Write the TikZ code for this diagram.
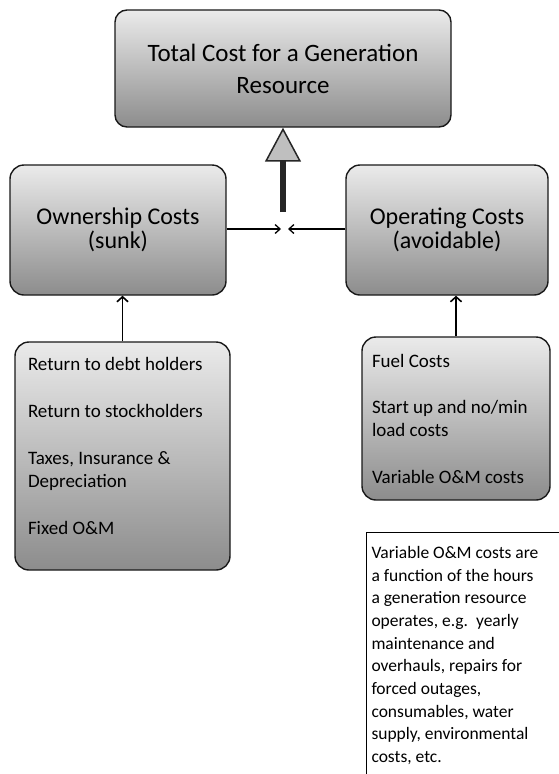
\documentclass[tikz,border=0pt]{standalone}
\usepackage{fontspec}
\setmainfont{Carlito}
\usetikzlibrary{arrows.meta}

\tikzset{
  costbox/.style={draw=black!90, line width=1.4pt, rounded corners=14pt,
    top color=black!8, bottom color=black!45, align=center},
  notebox/.style={draw=black, line width=1pt, align=flush left, inner xsep=5pt},
  feed/.style={draw=black, line width=1.6pt, -{Straight Barb[length=5pt,width=11pt]}},
  merge/.style={draw=black, line width=1.3pt, -{Straight Barb[length=5pt,width=9pt]}},
  rise/.style={draw=black!85, line width=6pt,
    -{Triangle[length=34pt,width=36pt,fill=black!25,line width=1.5pt]}}
}

\begin{document}
\begin{tikzpicture}[x=1pt, y=-1pt]
		\useasboundingbox (0,0) rectangle (558,774);
		
		%%%%% TOP %%%%%
		\node[costbox, rounded corners=12pt, minimum width=336pt, minimum height=117pt,
		  font=\fontsize{25}{32}\selectfont] (total) at (283,68.5) {Total Cost for a Generation\\Resource};
		
		%%%%% MIDDLE %%%%%
		\node[costbox, minimum width=216pt, minimum height=130pt,
		  font=\fontsize{24}{24}\selectfont] (own) at (118,230) {Ownership Costs\\(sunk)};
		\node[costbox, minimum width=202pt, minimum height=130pt,
		  font=\fontsize{24}{24}\selectfont] (oper) at (447,230) {Operating Costs\\(avoidable)};
		
		%%%%% LISTS %%%%%
		\node[costbox, inner sep=0pt, minimum width=215pt, minimum height=228pt,
		  font=\fontsize{19}{23.5}\selectfont] (ownlist) at (122.5,456)
		  {\parbox[c][198pt][t]{189pt}{\raggedright Return to debt holders\\[23.5pt]
		  Return to stockholders\\[23.5pt]Taxes, Insurance \&\\Depreciation\\[23.5pt]Fixed O\&M}};
		\node[costbox, inner sep=0pt, minimum width=188pt, minimum height=163pt,
		  font=\fontsize{19}{23}\selectfont] (operlist) at (456,418.5)
		  {\parbox[c][129pt][t]{168pt}{\raggedright Fuel Costs\\[23.5pt]
		  Start up and no/min\\load costs\\[23.5pt]Variable O\&M costs}};
		
		% note runs off the page at right and bottom
		\node[notebox, anchor=north west, text width=190pt, minimum height=246pt,
		  font=\fontsize{17.5}{22.7}\selectfont] (note) at (366,532)
		  {Variable O\&M costs are\\a function of the hours\\a generation resource\\
		  operates, e.g.\ \ yearly\\maintenance and\\overhauls, repairs for\\forced outages,\\
		  consumables, water\\supply, environmental\\costs, etc.};
		
		%%%%% ARROWS %%%%%
		\coordinate (meetL) at (281,229);
		\coordinate (meetR) at (288,229);
		\coordinate (riseB) at (283,212);
		
		\draw[merge] (own.east |- meetL) -- (meetL);
		\draw[merge] (oper.west |- meetR) -- (meetR);
		\draw[rise] (riseB) -- (riseB |- total.south);
		\draw[feed] (ownlist.north) -- (ownlist.north |- own.south);
		\draw[feed] (operlist.north) -- (operlist.north |- oper.south);
		
\end{tikzpicture}
\end{document}
